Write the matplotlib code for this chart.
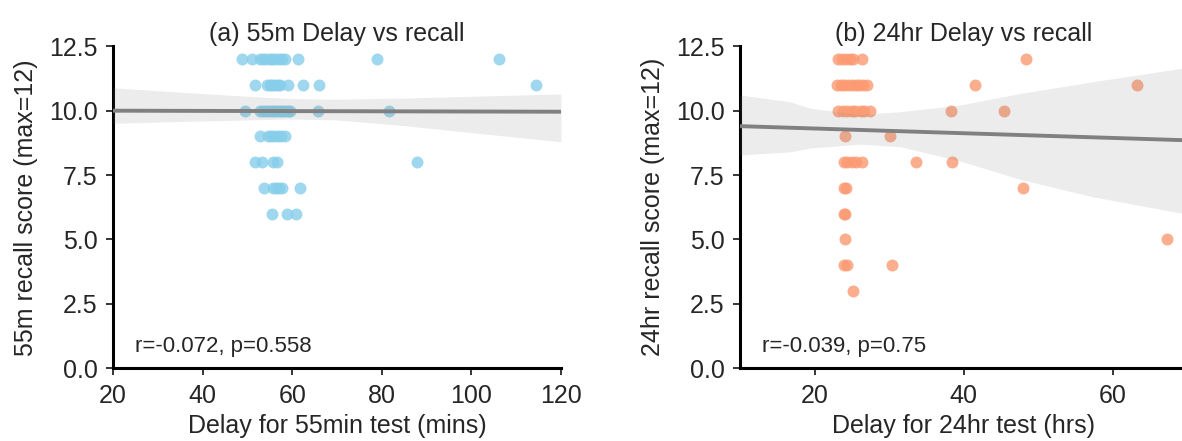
import matplotlib

matplotlib.use("Agg")
import matplotlib.pyplot as plt

plt.rcParams["font.family"] = ["Liberation Sans", "DejaVu Sans"]

# 55-minute test: delay (mins) and recall score, grouped by score
delay_55m = [
    48.7, 51.0, 52.8, 53.5, 54.2, 55.0, 55.6, 56.2, 57.0, 57.8, 58.4, 61.3, 79.0, 106.2,
    51.7, 54.3, 55.0, 55.6, 56.2, 56.8, 57.3, 59.1, 62.5, 66.0, 114.4,
    49.5, 52.8, 53.5, 54.2, 54.8, 55.4, 56.0, 56.6, 57.2, 57.8, 58.4, 59.0, 59.5, 65.7, 81.5,
    52.8, 54.6, 55.3, 56.0, 56.8, 57.6, 58.4,
    51.7, 53.2, 55.7, 56.5, 87.9,
    53.6, 55.7, 56.3, 57.0, 57.7, 61.7,
    55.6, 58.8, 60.8,
]
recall_55m = (
    [12] * 14 + [11] * 11 + [10] * 15 + [9] * 7 + [8] * 5 + [7] * 6 + [6] * 3
)

# regression line and its bootstrapped 95% band
fit_55m_x = [20, 120]
fit_55m_y = [10.0, 9.96]
band_55m_x = [20, 35, 50, 60, 70, 85, 100, 120]
band_55m_hi = [10.89, 10.72, 10.56, 10.47, 10.45, 10.49, 10.56, 10.65]
band_55m_lo = [9.51, 9.58, 9.64, 9.68, 9.64, 9.42, 9.15, 8.79]

# 24-hour test: delay (hrs) and recall score
delay_24h = [
    23.2, 23.7, 24.2, 24.7, 25.2, 26.3, 48.3,
    23.0, 23.5, 24.0, 24.5, 25.0, 25.5, 26.0, 26.5, 27.0, 41.5, 63.2,
    23.2, 23.8, 24.4, 25.0, 25.4, 26.2, 26.6, 27.4, 38.3, 45.4,
    24.1, 30.1,
    23.9, 24.4, 25.0, 25.6, 26.3, 33.6, 38.5,
    24.0, 24.2, 48.0,
    23.9, 24.1,
    24.1, 67.2,
    24.0, 24.3, 30.4,
    25.2,
]
recall_24h = (
    [12] * 7 + [11] * 11 + [10] * 10 + [9] * 2 + [8] * 7 + [7] * 3 + [6] * 2
    + [5] * 2 + [4] * 3 + [3] * 1
)

fit_24h_x = [10, 70]
fit_24h_y = [9.40, 8.85]
band_24h_x = [10, 16.7, 19.4, 26, 31.5, 39.5, 47.6, 57.4, 70]
band_24h_hi = [10.61, 10.35, 10.1, 9.85, 9.96, 10.22, 10.67, 11.13, 11.68]
band_24h_lo = [8.28, 8.4, 8.55, 8.7, 8.6, 8.05, 7.33, 6.65, 5.98]

y_ticks = [0.0, 2.5, 5.0, 7.5, 10.0, 12.5]
TEXT = "#262626"


def draw_panel(ax, x, y, color, fit, band, xlim, xticks, title, xlabel, ylabel, stat_text):
    ax.scatter(x, y, s=74, color=color, alpha=0.8, linewidths=0, zorder=2)
    bx, lo, hi = band
    ax.fill_between(bx, lo, hi, color="gray", alpha=0.15, linewidth=0, zorder=3)
    ax.plot(*fit, color="gray", linewidth=2.8, zorder=4)

    ax.set_xlim(*xlim)
    ax.set_ylim(0, 12.5)
    ax.set_xticks(xticks)
    ax.set_yticks(y_ticks)
    ax.set_title(title, fontsize=18, color=TEXT, pad=1)
    ax.set_xlabel(xlabel, fontsize=18, color=TEXT, labelpad=5)
    ax.set_ylabel(ylabel, fontsize=18, color=TEXT, labelpad=8)
    ax.text(0.05, 0.05, stat_text, transform=ax.transAxes, fontsize=16, color=TEXT)

    for side in ("top", "right"):
        ax.spines[side].set_visible(False)
    for side in ("left", "bottom"):
        ax.spines[side].set_linewidth(2.2)
        ax.spines[side].set_color("black")
    ax.tick_params(direction="out", length=5, width=1.1, labelsize=18, labelcolor=TEXT, pad=6)


fig = plt.figure(figsize=(11.82, 4.41), dpi=100)
ax_a = fig.add_axes([0.0956, 0.165, 0.379, 0.730])
ax_b = fig.add_axes([0.626, 0.165, 0.3786, 0.730])

draw_panel(
    ax_a, delay_55m, recall_55m, "skyblue",
    (fit_55m_x, fit_55m_y), (band_55m_x, band_55m_lo, band_55m_hi),
    (20, 120), [20, 40, 60, 80, 100, 120],
    "(a) 55m Delay vs recall", "Delay for 55min test (mins)", "55m recall score (max=12)",
    "r=-0.072, p=0.558",
)
draw_panel(
    ax_b, delay_24h, recall_24h, "#fb9a72",
    (fit_24h_x, fit_24h_y), (band_24h_x, band_24h_lo, band_24h_hi),
    (10, 70), [20, 40, 60],
    "(b) 24hr Delay vs recall", "Delay for 24hr test (hrs)", "24hr recall score (max=12)",
    "r=-0.039, p=0.75",
)

fig.savefig("out.png", dpi=100)
